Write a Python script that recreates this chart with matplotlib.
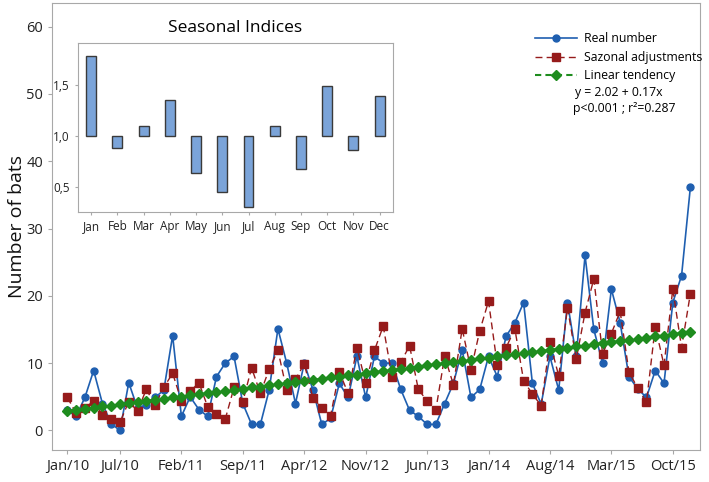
import numpy as np
import matplotlib
matplotlib.use('Agg')  # noqa
import matplotlib.pyplot as plt

plt.rcParams['font.family'] = ['Open Sans', 'DejaVu Sans']

# monthly series, Jan/10 .. Dec/15
real_number = [3.0, 2.1, 4.9, 8.9, 4.0, 1.0, 0.0, 7.1, 3.3, 3.8, 4.9, 6.0,
               14.1, 2.1, 5.0, 3.1, 2.1, 8.0, 10.0, 11.0, 4.0, 0.9, 0.9, 6.0,
               15.1, 10.0, 4.0, 10.0, 6.0, 0.9, 1.8, 7.0, 4.9, 11.0, 4.9, 11.0,
               10.0, 10.0, 6.1, 3.0, 2.1, 0.9, 0.9, 4.0, 7.0, 12.0, 4.9, 6.1,
               11.0, 8.0, 14.0, 16.0, 19.0, 7.0, 3.9, 11.0, 6.0, 19.0, 11.0, 26.0,
               15.0, 10.0, 21.0, 16.0, 8.0, 6.2, 4.9, 8.9, 7.0, 19.0, 23.0, 36.1]

seasonal_adj = [4.9, 2.6, 3.3, 4.4, 2.3, 1.7, 1.2, 4.3, 2.9, 6.1, 3.8, 6.4,
                8.5, 4.4, 5.8, 7.1, 3.5, 2.4, 1.7, 6.4, 4.3, 9.3, 5.5, 9.1,
                11.9, 6.0, 7.6, 9.9, 4.8, 3.4, 2.2, 8.7, 5.5, 12.3, 7.1, 11.9,
                15.5, 8.0, 10.1, 12.6, 6.1, 4.4, 3.1, 11.0, 6.8, 15.1, 9.0, 14.8,
                19.2, 9.7, 12.3, 15.1, 7.4, 5.4, 3.7, 13.1, 8.1, 18.2, 10.6, 17.5,
                22.5, 11.4, 14.4, 17.7, 8.7, 6.3, 4.2, 15.4, 9.7, 21.0, 12.3, 20.3]

linear_trend = [2.9, 3.1, 3.2, 3.4, 3.6, 3.7, 3.9, 4.1, 4.2, 4.4, 4.6, 4.7,
                4.9, 5.0, 5.2, 5.4, 5.5, 5.7, 5.9, 6.0, 6.2, 6.4, 6.5, 6.7,
                6.9, 7.0, 7.2, 7.4, 7.5, 7.7, 7.9, 8.0, 8.2, 8.3, 8.5, 8.7,
                8.8, 9.0, 9.2, 9.3, 9.5, 9.7, 9.8, 10.0, 10.2, 10.3, 10.5, 10.7,
                10.8, 11.0, 11.2, 11.3, 11.5, 11.6, 11.8, 12.0, 12.1, 12.3, 12.5, 12.6,
                12.8, 13.0, 13.1, 13.3, 13.5, 13.6, 13.8, 14.0, 14.1, 14.3, 14.5, 14.6]

tick_months = [0, 6, 13, 20, 27, 34, 41, 48, 55, 62, 69]
tick_labels = ['Jan/10', 'Jul/10', 'Feb/11', 'Sep/11', 'Apr/12', 'Nov/12',
               'Jun/13', 'Jan/14', 'Aug/14', 'Mar/15', 'Oct/15']

months = ['Jan', 'Feb', 'Mar', 'Apr', 'May', 'Jun',
          'Jul', 'Aug', 'Sep', 'Oct', 'Nov', 'Dec']
seasonal_index = [1.78, 0.88, 1.10, 1.35, 0.64, 0.45,
                  0.30, 1.10, 0.68, 1.49, 0.86, 1.39]

BLUE = '#1f5fb0'
RED = '#961b1b'
GREEN = '#1e8c1e'
FRAME = '#a8a8a8'

fig = plt.figure(figsize=(7.09, 4.82), dpi=100)
ax = fig.add_axes([0.0733, 0.0664, 0.914, 0.9274])

x = np.arange(len(real_number))
ax.plot(x, real_number, color=BLUE, lw=1.2, marker='o', ms=5,
        label='Real number', zorder=3)
ax.plot(x, seasonal_adj, color=RED, lw=1.0, ls=(0, (5, 3)), marker='s',
        ms=5.5, label='Sazonal adjustments', zorder=4)
ax.plot(x, linear_trend, color=GREEN, lw=1.5, ls=(0, (3, 2)), marker='D',
        ms=5.5, label='Linear tendency', zorder=5)

ax.set_xlim(-1.75, 72.1)
ax.set_ylim(-2.9, 63.5)
ax.set_xticks(tick_months)
ax.set_xticklabels(tick_labels)
ax.set_yticks(range(0, 61, 10))
ax.tick_params(labelsize=10.5, colors='#222222', length=3, color=FRAME)
ax.set_ylabel('Number of bats', fontsize=14, color='#111111', labelpad=0)
for s in ax.spines.values():
    s.set_color(FRAME)

leg = ax.legend(loc='upper left', bbox_to_anchor=(0.755, 0.933),
                bbox_transform=fig.transFigure, frameon=False, fontsize=8.8,
                handlelength=3.4, labelspacing=0.45, handletextpad=0.55,
                borderpad=0, borderaxespad=0)
fig.text(0.811, 0.809, 'y = 2.02 + 0.17x', fontsize=8.8, va='center')
fig.text(0.808, 0.774, 'p<0.001 ; r\u00b2=0.287', fontsize=8.8, va='center')

# inset with seasonal indices
ins = fig.add_axes([0.110, 0.560, 0.444, 0.351])
ins.bar(range(12), np.array(seasonal_index) - 1.0, bottom=1.0, width=0.38,
        color='#7ba4d9', edgecolor='#3a3a3a', linewidth=1.0)
ins.set_xlim(-0.5, 11.5)
ins.set_ylim(0.255, 1.91)
ins.set_xticks(range(12))
ins.set_xticklabels(months)
ins.set_yticks([0.5, 1.0, 1.5])
ins.set_yticklabels(['0,5', '1,0', '1,5'])
ins.tick_params(labelsize=8.5, colors='#222222', length=2.5, color=FRAME)
for s in ins.spines.values():
    s.set_color(FRAME)
ins.set_title('Seasonal Indices', fontsize=12.5, pad=8)

plt.savefig('out.png', dpi=100)
